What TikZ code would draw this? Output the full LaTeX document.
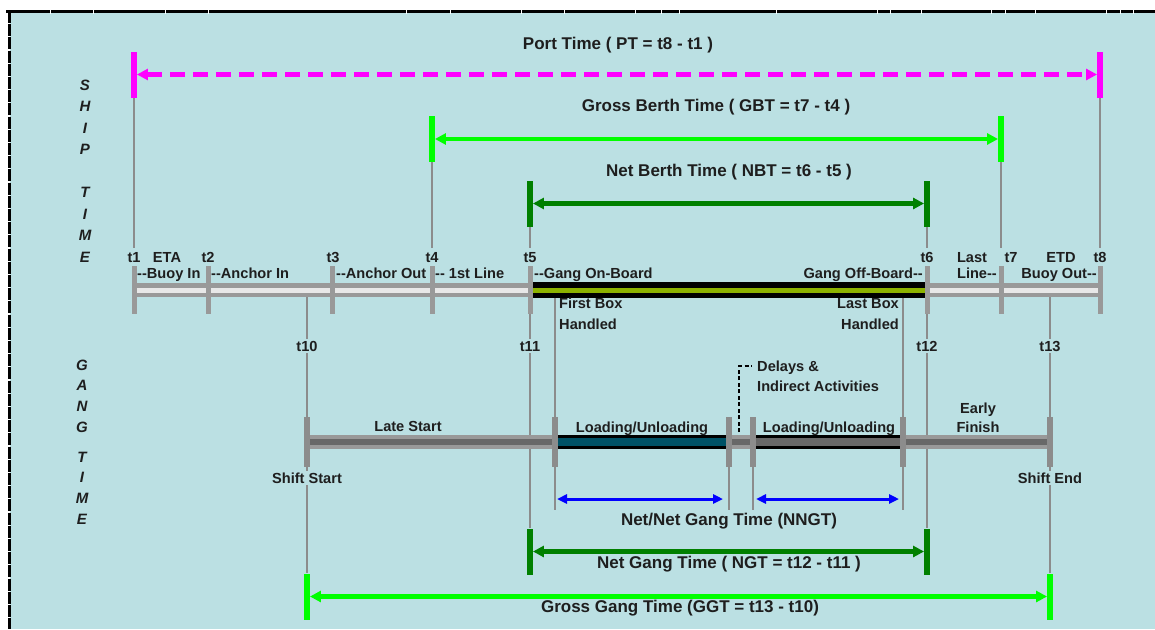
\documentclass[tikz,border=0pt]{standalone}
\usepackage{fontspec}
\setmainfont{Liberation Sans}
\usetikzlibrary{arrows.meta,positioning}

\definecolor{bgteal}{RGB}{187,224,227}
\definecolor{linegray}{RGB}{140,140,140}
\definecolor{bandgray}{RGB}{153,153,153}
\definecolor{bandlight}{RGB}{232,232,232}
\definecolor{banddark}{RGB}{104,104,104}
\definecolor{boardolive}{RGB}{140,178,0}
\definecolor{loadteal}{RGB}{0,82,102}
\definecolor{labelink}{RGB}{30,30,30}
\definecolor{ptmagenta}{RGB}{255,0,255}
\definecolor{gbtgreen}{RGB}{0,255,0}
\definecolor{nbtgreen}{RGB}{0,128,0}
\definecolor{nngblue}{RGB}{0,0,255}

\pgfdeclarelayer{guides}
\pgfdeclarelayer{bars}
\pgfsetlayers{guides,bars,main}

\newcommand{\dblhy}{-{}-}

\begin{document}
\begin{tikzpicture}[x=1pt, y=-1pt,
  bigtext/.style={font=\fontsize{17}{20}\selectfont\bfseries, text=labelink, inner sep=0pt, text height=2ex, text depth=.1ex},
  smalltext/.style={font=\fontsize{14.6}{17}\selectfont\bfseries, text=labelink, inner sep=0pt, text height=2ex, text depth=.1ex},
  cutlabel/.style={smalltext, fill=bgteal, inner xsep=1pt, inner ysep=1pt},
  sidetext/.style={font=\fontsize{15}{21.5}\selectfont\bfseries\itshape, text=labelink, align=center, inner sep=0pt},
  shiptick/.style={fill=bandgray, minimum width=5pt, minimum height=48pt, inner sep=0pt},
  gangtick/.style={fill=linegray, minimum width=5.5pt, minimum height=50pt, inner sep=0pt},
  spantick/.style={minimum width=5.5pt, minimum height=46pt, inner sep=0pt},
  guide/.style={draw=linegray, line width=2.6pt},
  spanarrow/.style={line width=4.5pt, {Triangle[length=11pt,width=11pt]}-{Triangle[length=11pt,width=11pt]}},
  nnarrow/.style={nngblue, line width=3pt, {Triangle[length=10pt,width=9pt]}-{Triangle[length=10pt,width=9pt]}},
  delayline/.style={black, line width=1.6pt, dash pattern=on 4pt off 2.5pt},
]
\useasboundingbox (0,0) rectangle (1155,629);

% background and frame
\begin{pgfonlayer}{guides}
  \fill[bgteal] (10,12) rectangle (1155,629);
  \draw[line width=3pt, dash pattern=on 12pt off 1.2pt] (9.5,11) -- (9.5,629);
  \draw[line width=3pt] (6,11.5) -- (1155,11.5);
  \foreach \x in {50,93,165,208,406,450,521,564,635,661,679,776,877,890,921,991,1005,1035,1106,1120,1133}
    \draw[white, line width=1pt] (\x,9.5) -- (\x,13.5);
\end{pgfonlayer}

% side titles
\node[sidetext] (shiptime) at (85,171) {S\\H\\I\\P\\[21.5pt]T\\I\\M\\E};
\node[sidetext, font=\fontsize{15}{20.7}\selectfont\bfseries\itshape] (gangtime) at (82,442) {G\\A\\N\\G\\[9pt]T\\I\\M\\E};

% ship time marks
\foreach \n/\x in {1/134,2/208,3/332,4/432,5/530,6/927,7/1001,8/1100}
  \node[shiptick] (s\n) at (\x,290) {};

% gang time marks
\node[gangtick] (g10) at (307,442) {};
\node[gangtick] (gfb) at (555,442) {};
\node[gangtick] (gd1) at (729,442) {};
\node[gangtick] (gd2) at (753,442) {};
\node[gangtick] (glb) at (903,442) {};
\node[gangtick] (g13) at (1050,442) {};

% span end marks
\node[spantick, fill=ptmagenta] (pt1) at (134,74.5) {};
\node[spantick, fill=ptmagenta] (pt8) at (1100,74.5) {};
\node[spantick, fill=gbtgreen] (gbt4) at (432,139) {};
\node[spantick, fill=gbtgreen] (gbt7) at (1001,139) {};
\node[spantick, fill=nbtgreen] (nbt5) at (530,203.5) {};
\node[spantick, fill=nbtgreen] (nbt6) at (927,203.5) {};
\node[spantick, fill=nbtgreen] (ngt11) at (530,551.5) {};
\node[spantick, fill=nbtgreen] (ngt12) at (927,551.5) {};
\node[spantick, fill=gbtgreen] (ggt10) at (307,596.5) {};
\node[spantick, fill=gbtgreen] (ggt13) at (1050,596.5) {};

% span titles
\node[bigtext] (ptlabel) at (618,44) {Port Time ( PT = t8 - t1 )};
\node[bigtext] (gbtlabel) at (716,106) {Gross Berth Time ( GBT = t7 - t4 )};
\node[bigtext] (nbtlabel) at (729,171) {Net Berth Time ( NBT = t6 - t5 )};
\node[bigtext] (nnglabel) at (729,520) {Net/Net Gang Time (NNGT)};
\node[bigtext] (ngtlabel) at (729,563) {Net Gang Time ( NGT = t12 - t11 )};
\node[bigtext] (ggtlabel) at (680,607) {Gross Gang Time (GGT = t13 - t10)};

% ship event labels
\foreach \n/\x in {1/134,2/208,3/333,4/432,5/530,6/927,7/1011,8/1100}
  \node[smalltext] (lt\n) at (\x,257) {t\n};
\node[smalltext] (eta) at (167,257) {ETA};
\node[smalltext] (lastword) at (972,257) {Last};
\node[smalltext] (etd) at (1061,257) {ETD};
\node[smalltext, anchor=west] (buoyin) at (137,273) {\dblhy Buoy In};
\node[smalltext, anchor=west] (anchorin) at (211,273) {\dblhy Anchor In};
\node[smalltext, anchor=west] (anchorout) at (336,273) {\dblhy Anchor Out};
\node[smalltext, anchor=west] (firstline) at (435,273) {\dblhy{} 1st Line};
\node[smalltext, anchor=west] (gangon) at (534,273) {\dblhy Gang On-Board};
\node[smalltext, anchor=east] (gangoff) at (923,273) {Gang Off-Board\dblhy};
\node[smalltext, anchor=east] (lastline) at (997,273) {Line\dblhy};
\node[smalltext, anchor=east] (buoyout) at (1097,273) {Buoy Out\dblhy};
\node[smalltext, anchor=west] (firstbox) at (559,303) {First Box};
\node[smalltext, anchor=west] (fbhandled) at (559,324) {Handled};
\node[smalltext, anchor=east] (lastbox) at (899,303) {Last Box};
\node[smalltext, anchor=east] (lbhandled) at (899,324) {Handled};

% gang event labels
\node[cutlabel] (lt10) at (307,346) {t10};
\node[cutlabel] (lt11) at (530,346) {t11};
\node[cutlabel] (lt12) at (927,346) {t12};
\node[cutlabel] (lt13) at (1050,346) {t13};
\node[cutlabel] (shiftstart) at (307,478) {Shift Start};
\node[cutlabel] (shiftend) at (1050,478) {Shift End};
\node[smalltext, anchor=west] (delays) at (757,366) {Delays \&};
\node[smalltext, anchor=west] (indirect) at (757,386) {Indirect Activities};
\node[smalltext] (latestart) at (408,426) {Late Start};
\node[smalltext] (loadone) at (642,427) {Loading/Unloading};
\node[smalltext] (loadtwo) at (829,427) {Loading/Unloading};
\node[smalltext] (early) at (978,408) {Early};
\node[smalltext] (finish) at (978,427) {Finish};

% spans
\draw[spanarrow, ptmagenta, dash pattern=on 15pt off 8pt] (pt1) -- (pt8);
\draw[spanarrow, gbtgreen] (gbt4) -- (gbt7);
\draw[spanarrow, nbtgreen] (nbt5) -- (nbt6);
\draw[spanarrow, nbtgreen] (ngt11) -- (ngt12);
\draw[spanarrow, gbtgreen] (ggt10) -- (ggt13);
\coordinate (nngrow) at (0,499);
\coordinate (nnend) at (0,510);
\draw[nnarrow, shorten <=2pt, shorten >=6pt] (gfb |- nngrow) -- (gd1 |- nngrow);
\draw[nnarrow, shorten <=3pt, shorten >=4pt] (gd2 |- nngrow) -- (glb |- nngrow);

% delays pointer
\coordinate (delayfoot) at (739,432);
\coordinate (delaytop) at (739,366);
\draw[delayline, shorten >=5pt] (delayfoot) -- (delaytop) -- (delaytop -| delays.west);

% thin time lines
\begin{pgfonlayer}{guides}
  \draw[guide, shorten >=3pt] (pt1) -- (lt1.north);
  \draw[guide, shorten >=3pt] (pt8) -- (lt8.north);
  \draw[guide, shorten >=3pt] (gbt4) -- (lt4.north);
  \draw[guide, shorten >=3pt] (gbt7) -- (gbt7 |- lt7.north);
  \draw[guide, shorten >=3pt] (nbt5) -- (lt5.north);
  \draw[guide, shorten >=3pt] (nbt6) -- (lt6.north);
  \draw[guide] (s5) -- (ngt11);
  \draw[guide] (s6) -- (ngt12);
  \draw[guide] (g10 |- s1) -- (ggt10);
  \draw[guide] (g13 |- s1) -- (ggt13);
  \draw[guide] (gfb |- s1) -- (gfb |- nnend);
  \draw[guide] (glb |- s1) -- (glb |- nnend);
  \draw[guide] (gd1) -- (gd1 |- nnend);
  \draw[guide] (gd2) -- (gd2 |- nnend);
\end{pgfonlayer}

% bars
\begin{pgfonlayer}{bars}
  \draw[bandgray, line width=14pt] (s1.center) -- (s8.center);
  \draw[bandlight, line width=5pt] (s1.center) -- (s8.center);
  \draw[black, line width=16pt] (s5.center) -- (s6.center);
  \draw[boardolive, line width=5pt] (s5.center) -- (s6.center);
  \foreach \a/\b/\outer/\inner/\w in {g10/gfb/bandgray/banddark/6, gfb/gd1/black/loadteal/8,
      gd1/gd2/bandgray/banddark/6, gd2/glb/black/banddark/8, glb/g13/bandgray/banddark/6} {
    \draw[\outer, line width=14pt] (\a.center) -- (\b.center);
    \draw[\inner, line width=\w pt] (\a.center) -- (\b.center);
  }
\end{pgfonlayer}

\end{tikzpicture}
\end{document}
